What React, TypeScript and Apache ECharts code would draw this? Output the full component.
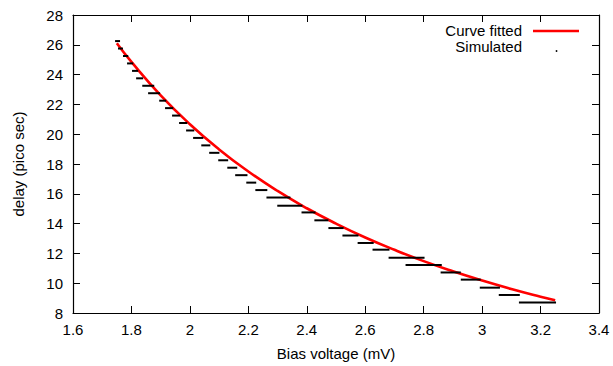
import React, { useEffect, useRef } from "react";
import * as echarts from "echarts";

// Fitted curve
const fitX = [1.75, 1.8, 1.9, 2.0, 2.1, 2.2, 2.3, 2.4, 2.5, 2.6, 2.7, 2.8, 2.9, 3.0, 3.1, 3.2, 3.25];
const fitY = [26.1, 24.85, 22.61, 20.67, 18.98, 17.5, 16.19, 15.03, 14.0, 13.07, 12.24, 11.48, 10.8, 10.18, 9.61, 9.09, 8.85];

// Simulated points: each quantised delay level spans a short run of bias voltages
const simX1 = [1.744, 1.754, 1.771, 1.785, 1.802, 1.816, 1.837, 1.857, 1.895, 1.915, 1.939, 1.963, 1.987, 2.011, 2.039, 2.066, 2.097, 2.128, 2.155, 2.193, 2.224, 2.262, 2.299, 2.382, 2.426, 2.474, 2.522, 2.574, 2.625, 2.68, 2.738, 2.858, 2.927, 2.992, 3.057, 3.126];
const simX2 = [1.761, 1.771, 1.789, 1.806, 1.823, 1.84, 1.878, 1.898, 1.919, 1.943, 1.967, 1.991, 2.015, 2.046, 2.07, 2.101, 2.131, 2.162, 2.197, 2.227, 2.265, 2.344, 2.385, 2.43, 2.474, 2.526, 2.577, 2.629, 2.683, 2.803, 2.862, 2.927, 2.995, 3.061, 3.129, 3.253];
const simY = [26.25, 25.75, 25.25, 24.75, 24.25, 23.75, 23.25, 22.75, 22.25, 21.75, 21.25, 20.75, 20.25, 19.75, 19.25, 18.75, 18.25, 17.75, 17.25, 16.75, 16.25, 15.75, 15.2, 14.75, 14.22, 13.7, 13.2, 12.7, 12.25, 11.71, 11.22, 10.72, 10.24, 9.7, 9.21, 8.7];

const xMin = 1.6, xMax = 3.4, xStep = 0.2;
const yMin = 8, yMax = 28, yStep = 2;

const FONT = "Liberation Sans, Arial, Helvetica, sans-serif";

export default function App() {
  const ref = useRef<HTMLDivElement>(null);
  useEffect(() => {
    if (!ref.current) return;
    const chart = echarts.init(ref.current, undefined, { renderer: "svg" });
    const fitData = fitX.map((x, i) => [x, fitY[i]]);
    const simData = simX1.map((x, i) => [x, simX2[i], simY[i]]);
    const axisCommon = {
      type: "value" as const,
      axisLine: { show: true, onZero: false, lineStyle: { color: "#000", width: 1.2 } },
      axisTick: { show: true, inside: true, length: 7, lineStyle: { color: "#000", width: 1 } },
      splitLine: { show: false },
    };
    chart.setOption({
      animation: false,
      backgroundColor: "#fff",
      grid: { left: 73, right: 14, top: 15, bottom: 53 },
      xAxis: [
        {
          ...axisCommon,
          min: xMin, max: xMax, interval: xStep,
          name: "Bias voltage (mV)",
          nameLocation: "middle",
          nameGap: 33,
          nameTextStyle: { fontFamily: FONT, fontSize: 15, color: "#000" },
          axisLabel: { fontFamily: FONT, fontSize: 15, color: "#000", margin: 9 },
        },
        {
          ...axisCommon,
          position: "top",
          min: xMin, max: xMax, interval: xStep,
          axisLabel: { show: false },
        },
      ],
      yAxis: [
        {
          ...axisCommon,
          min: yMin, max: yMax, interval: yStep,
          name: "delay (pico sec)",
          nameLocation: "middle",
          nameGap: 47,
          nameTextStyle: { fontFamily: FONT, fontSize: 15, color: "#000" },
          axisLabel: { fontFamily: FONT, fontSize: 15, color: "#000", margin: 10 },
        },
        {
          ...axisCommon,
          position: "right",
          min: yMin, max: yMax, interval: yStep,
          axisLabel: { show: false },
        },
      ],
      series: [
        {
          name: "Curve fitted",
          type: "line",
          data: fitData,
          smooth: true,
          showSymbol: false,
          symbol: "none",
          lineStyle: { color: "#ff0000", width: 2.6 },
          z: 2,
        },
        {
          name: "Simulated",
          type: "custom",
          data: simData,
          encode: { x: [0, 1], y: 2 },
          z: 3,
          renderItem: (params: any, api: any) => {
            const p1 = api.coord([api.value(0), api.value(2)]);
            const p2 = api.coord([api.value(1), api.value(2)]);
            return {
              type: "line",
              shape: { x1: p1[0], y1: p1[1], x2: p2[0], y2: p2[1] },
              style: { stroke: "#000", lineWidth: 2 },
            };
          },
        },
      ],
      graphic: [
        {
          type: "text",
          x: 522, y: 30.5,
          style: { text: "Curve fitted", fontFamily: FONT, fontSize: 15, lineHeight: 14, fill: "#000", align: "right", verticalAlign: "middle" },
        },
        {
          type: "line",
          shape: { x1: 533, y1: 31, x2: 579, y2: 31 },
          style: { stroke: "#ff0000", lineWidth: 2.6 },
        },
        {
          type: "text",
          x: 522, y: 46.5,
          style: { text: "Simulated", fontFamily: FONT, fontSize: 15, lineHeight: 14, fill: "#000", align: "right", verticalAlign: "middle" },
        },
        {
          type: "circle",
          shape: { cx: 556.5, cy: 51, r: 0.9 },
          style: { fill: "#000" },
        },
      ],
    });
    return () => chart.dispose();
  }, []);
  return (
    <div
      ref={ref}
      style={{ position: "fixed", left: 0, top: 0, width: 613, height: 366, background: "#fff" }}
    />
  );
}
